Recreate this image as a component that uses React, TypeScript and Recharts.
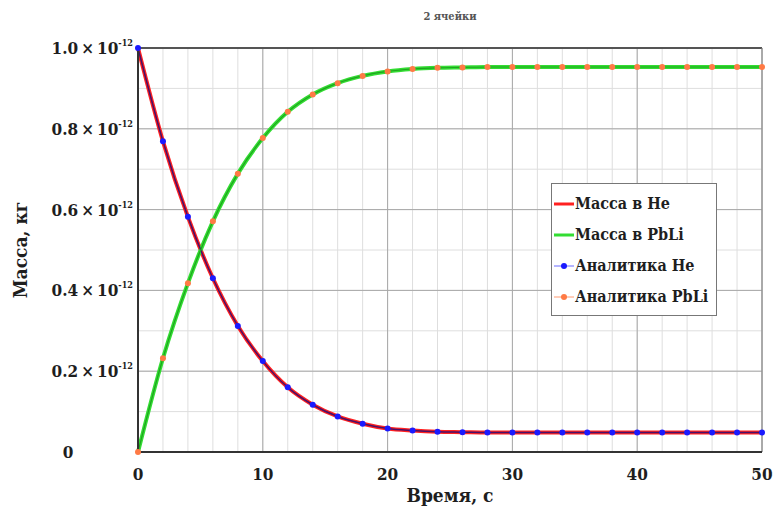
import {
  LineChart,
  Line,
  XAxis,
  YAxis,
  CartesianGrid,
  Legend,
  Label,
  ReferenceLine,
} from "recharts";

// time, s
const times = [0, 2, 4, 6, 8, 10, 12, 14, 16, 18, 20, 22, 24, 26, 28, 30, 32, 34, 36, 38, 40, 42, 44, 46, 48, 50];
// mass, units of 1e-12 kg
const massHe = [1.0, 0.769, 0.582, 0.43, 0.312, 0.225, 0.16, 0.117, 0.088, 0.07, 0.058, 0.053, 0.05, 0.049, 0.048, 0.048, 0.048, 0.048, 0.048, 0.048, 0.048, 0.048, 0.048, 0.048, 0.048, 0.048];
const massPbLi = [0, 0.232, 0.418, 0.571, 0.689, 0.777, 0.842, 0.885, 0.913, 0.931, 0.942, 0.948, 0.951, 0.952, 0.953, 0.953, 0.953, 0.953, 0.953, 0.953, 0.953, 0.953, 0.953, 0.953, 0.953, 0.953];

const xTicks = [0, 10, 20, 30, 40, 50];
const yTicks = [0, 0.2, 0.4, 0.6, 0.8, 1.0];
const yTickLabels = ["0", "0.2", "0.4", "0.6", "0.8", "1.0"];
const xMinorTicks = [0, 2, 4, 6, 8, 10, 12, 14, 16, 18, 20, 22, 24, 26, 28, 30, 32, 34, 36, 38, 40, 42, 44, 46, 48, 50];
const yMinorTicks = [0, 0.05, 0.1, 0.15, 0.2, 0.25, 0.3, 0.35, 0.4, 0.45, 0.5, 0.55, 0.6, 0.65, 0.7, 0.75, 0.8, 0.85, 0.9, 0.95, 1.0];

const rows = times.map((t, i) => ({ t, he: massHe[i], pbli: massPbLi[i] }));

const FONT = "'DejaVu Serif Condensed', 'DejaVu Serif', serif";
const TEXT = "#1e1e1e";

const SERIES = [
  { name: "Масса в He", color: "#ff2020", dot: null, width: 3 },
  { name: "Масса в PbLi", color: "#33dd33", dot: null, width: 3 },
  { name: "Аналитика He", color: "#6b6bff", dot: "#1a1aff", width: 1 },
  { name: "Аналитика PbLi", color: "#ff9a70", dot: "#ff7a45", width: 1 },
];

function YTick({ x, y, payload }: any) {
  const i = yTicks.indexOf(payload.value);
  const label = yTickLabels[i] ?? String(payload.value);
  if (label === "0") {
    return (
      <text x={x - 62} y={y} dy={6} textAnchor="middle" fontFamily={FONT} fontStretch="condensed" fontWeight="bold" fontSize={17} fill={TEXT}>
        0
      </text>
    );
  }
  return (
    <text x={x + 3} y={y} dy={6} textAnchor="end" fontFamily={FONT} fontStretch="condensed" fontWeight="bold" fontSize={17} fill={TEXT}>
      {label + "\u2009×\u200910"}
      <tspan fontSize={9} dy={-8}>-12</tspan>
    </text>
  );
}

function XTick({ x, y, payload }: any) {
  return (
    <text x={x} y={y} dy={20} textAnchor="middle" fontFamily={FONT} fontStretch="condensed" fontWeight="bold" fontSize={17} fill={TEXT}>
      {payload.value}
    </text>
  );
}

function LegendBox() {
  return (
    <div
      style={{
        border: "1.5px solid #777",
        background: "#fff",
        padding: "4px 4px 3px 2px",
      }}
    >
      {SERIES.map((s) => (
        <div key={s.name} style={{ display: "flex", alignItems: "center", height: 31 }}>
          <svg width={20} height={10} style={{ flex: "none" }}>
            <line x1={0} y1={5} x2={20} y2={5} stroke={s.color} strokeWidth={s.width} />
            {s.dot && <circle cx={10} cy={5} r={3} fill={s.dot} />}
          </svg>
          <span
            style={{
              fontFamily: FONT,
              fontStretch: "condensed",
              fontWeight: "bold",
              fontSize: 16,
              color: TEXT,
              whiteSpace: "nowrap",
              marginLeft: 1,
            }}
          >
            {s.name}
          </span>
        </div>
      ))}
    </div>
  );
}

export default function App() {
  return (
    <div style={{ position: "absolute", left: 0, top: 0, width: 780, height: 507, background: "#fff" }}>
      <div
        style={{
          position: "absolute",
          left: 138,
          width: 624,
          top: 10,
          textAlign: "center",
          fontFamily: FONT,
          fontWeight: "bold",
          fontSize: 11,
          color: "#555",
        }}
      >
        2 ячейки
      </div>
      <LineChart width={780} height={507} data={rows} margin={{ top: 48, right: 18, bottom: 0, left: 0 }}>
        <XAxis xAxisId="minor" type="number" dataKey="t" domain={[0, 50]} ticks={xMinorTicks} hide allowDataOverflow />
        <YAxis yAxisId="minor" type="number" domain={[0, 1]} ticks={yMinorTicks} hide allowDataOverflow />
        <CartesianGrid xAxisId="minor" yAxisId="minor" stroke="#dedede" strokeWidth={1} />
        <CartesianGrid stroke="#a8a8a8" strokeWidth={1} />
        <XAxis
          dataKey="t"
          type="number"
          domain={[0, 50]}
          ticks={xTicks}
          tick={<XTick />}
          tickLine={false}
          axisLine={{ stroke: "#333", strokeWidth: 2 }}
          height={55}
        >
          <Label
            value="Время, с"
            position="insideBottom"
            offset={5}
            style={{ fontFamily: FONT, fontStretch: "condensed", fontWeight: "bold", fontSize: 19, fill: TEXT }}
          />
        </XAxis>
        <YAxis
          type="number"
          domain={[0, 1]}
          ticks={yTicks}
          tick={<YTick />}
          tickLine={false}
          axisLine={{ stroke: "#333", strokeWidth: 2 }}
          width={138}
        >
          <Label
            value="Масса, кг"
            position="insideLeft"
            angle={-90}
            offset={20}
            style={{ textAnchor: "middle", fontFamily: FONT, fontStretch: "condensed", fontWeight: "bold", fontSize: 19, fill: TEXT }}
          />
        </YAxis>
        <ReferenceLine y={1} stroke="#555" strokeWidth={2} />
        <ReferenceLine x={50} stroke="#888" strokeWidth={1} />
        <Legend
          layout="vertical"
          align="center"
          verticalAlign="middle"
          content={<LegendBox />}
          wrapperStyle={{ left: 551, top: 183, width: 166 }}
        />
        <Line
          type="monotone"
          dataKey="he"
          name="Масса в He"
          stroke="#ff2020"
          strokeWidth={4}
          dot={false}
          isAnimationActive={false}
        />
        <Line
          type="monotone"
          dataKey="pbli"
          name="Масса в PbLi"
          stroke="#33dd33"
          strokeWidth={4}
          dot={false}
          isAnimationActive={false}
        />
        <Line
          type="monotone"
          dataKey="he"
          name="Аналитика He"
          stroke="#4a1068"
          strokeWidth={1.5}
          dot={{ r: 3, fill: "#1a1aff", stroke: "none" }}
          isAnimationActive={false}
        />
        <Line
          type="monotone"
          dataKey="pbli"
          name="Аналитика PbLi"
          stroke="#1fa51f"
          strokeWidth={1.2}
          dot={{ r: 3, fill: "#ff7a45", stroke: "none" }}
          isAnimationActive={false}
        />
      </LineChart>
    </div>
  );
}
